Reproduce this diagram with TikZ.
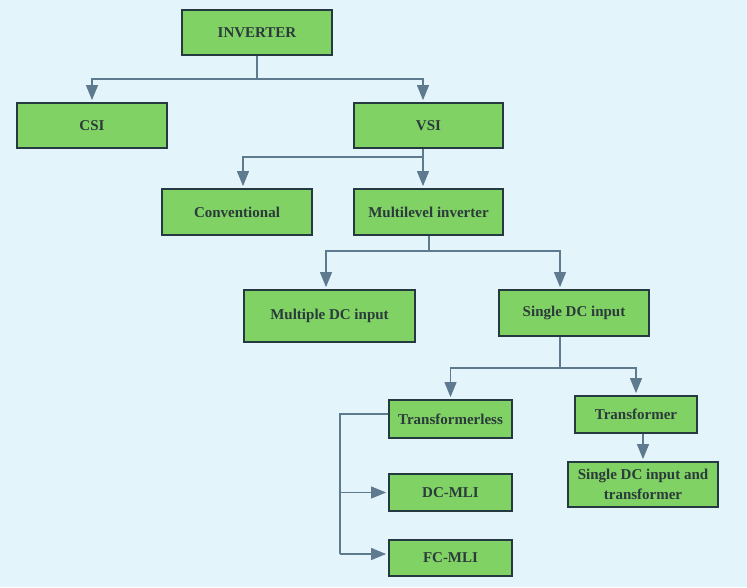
\documentclass[tikz,border=0pt]{standalone}
\usepackage{fontspec}
\setmainfont{Liberation Serif}
\usetikzlibrary{arrows.meta}
\definecolor{bg}{HTML}{E4F4FB}
\definecolor{boxfill}{HTML}{80D265}
\definecolor{boxline}{HTML}{243A40}
\definecolor{conncol}{HTML}{5E7A8E}
\definecolor{txt}{HTML}{2B3A3A}
\tikzset{
  box/.style={draw=boxline, fill=boxfill, line width=2.8pt, inner sep=2pt, align=center,
    text=txt, font=\fontsize{15}{18}\selectfont\bfseries},
  conn/.style={draw=conncol, line width=1.1pt},
  arr/.style={conn, -{Triangle[length=15pt,width=12pt]}, shorten >=1.5pt},
}
\begin{document}
\begin{tikzpicture}[x=1pt,y=-1pt]
\useasboundingbox[fill=bg] (0,0) rectangle (747,587);
% boxes
\node[box, minimum width=150pt, minimum height=45pt] (inv) at (257,32.5) {INVERTER};
\node[box, minimum width=150pt, minimum height=45pt] (csi) at (92,125.5) {CSI};
\node[box, minimum width=149pt, minimum height=45pt] (vsi) at (428.5,125.5) {VSI};
\node[box, minimum width=150pt, minimum height=46pt] (conv) at (237,212) {Conventional};
\node[box, minimum width=149pt, minimum height=46pt] (mli) at (428.5,212) {Multilevel inverter};
\node[box, minimum width=171pt, minimum height=52pt] (mdc) at (329.5,316) {Multiple DC input};
\node[box, minimum width=150pt, minimum height=46pt] (sdc) at (574,313) {Single DC input};
\node[box, minimum width=123pt, minimum height=38pt] (tl) at (450.5,419) {Transformerless};
\node[box, minimum width=123pt, minimum height=37pt] (dc) at (450.5,492.5) {DC-MLI};
\node[box, minimum width=123pt, minimum height=36pt] (fc) at (450.5,558) {FC-MLI};
\node[box, minimum width=122pt, minimum height=37pt] (tr) at (636,414.5) {Transformer};
\node[box, minimum width=150pt, minimum height=45pt] (sdt) at (643,484.5) {Single DC input and\\[2pt]transformer};
% junctions
\coordinate (j1) at (257,79);
\coordinate (j2) at (423,157);
\coordinate (j3) at (429,251);
\coordinate (j4) at (560,368);
\coordinate (j5) at (340,554);
% connectors
\draw[conn] (inv.south) -- (j1);
\draw[arr] (j1) -| (csi.north);
\draw[arr] (j1) -| ([xshift=-5.5pt]vsi.north);
\draw[conn] ([xshift=-5.5pt]vsi.south) -- (j2);
\draw[arr] (j2) -| ([xshift=6pt]conv.north);
\draw[arr] (j2) -- ([xshift=-5.5pt]mli.north);
\draw[conn] ([xshift=0.5pt]mli.south) -- (j3);
\draw[arr] (j3) -| ([xshift=-3.5pt]mdc.north);
\draw[arr] (j3) -| ([xshift=-14pt]sdc.north);
\draw[conn] ([xshift=-14pt]sdc.south) -- (j4);
\draw[arr] (j4) -| (tl.north);
\draw[arr] (j4) -| (tr.north);
\draw[arr] ([xshift=7pt]tr.south) -- (sdt.north);
\draw[conn] ([yshift=5pt]tl.west) -| (j5);
\draw[arr] (j5) -- ([yshift=4pt]fc.west);
\draw[arr] (dc.west -| j5) -- (dc.west);
\end{tikzpicture}
\end{document}
